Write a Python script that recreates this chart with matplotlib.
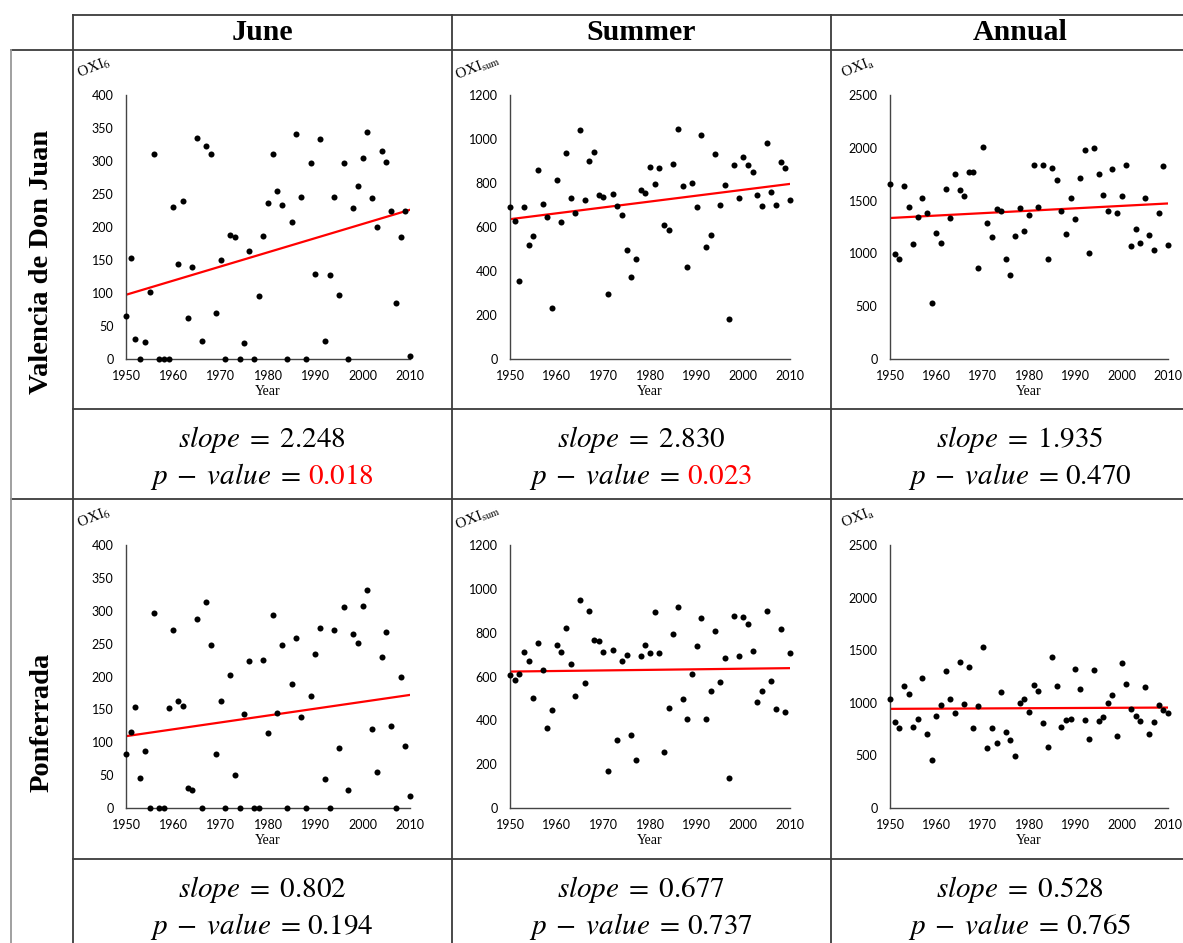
import numpy as np
import matplotlib.pyplot as plt

# OXI indices, one value per year 1950-2010
years = np.arange(1950, 2011)

valencia_june = [65, 153, 30, 0, 26, 101, 311, 0, 0, 0,
                 230, 144, 240, 62, 139, 335, 27, 322, 311, 69,
                 150, 0, 188, 185, 0, 24, 163, 0, 96, 187,
                 237, 311, 255, 234, 0, 207, 341, 246, 0, 297,
                 129, 334, 28, 127, 245, 97, 297, 0, 229, 262,
                 304, 344, 244, 200, 315, 299, 224, 85, 185, 225,
                 4]
valencia_summer = [693, 628, 356, 693, 516, 561, 858, 703, 644, 230,
                   812, 622, 935, 731, 663, 1039, 722, 899, 939, 746,
                   738, 297, 749, 696, 654, 495, 371, 454, 770, 756,
                   871, 794, 870, 611, 585, 887, 1044, 787, 416, 802,
                   690, 1018, 510, 564, 932, 699, 790, 180, 882, 734,
                   918, 882, 849, 746, 697, 982, 761, 700, 897, 867,
                   722]
valencia_annual = [1660, 997, 946, 1641, 1438, 1086, 1349, 1527, 1381, 527,
                   1190, 1095, 1610, 1337, 1752, 1600, 1543, 1771, 1768, 860,
                   2003, 1292, 1152, 1425, 1403, 946, 797, 1168, 1429, 1210,
                   1368, 1841, 1438, 1841, 946, 1810, 1692, 1403, 1187, 1521,
                   1324, 1717, 1975, 1003, 2000, 1756, 1549, 1397, 1797, 1378,
                   1543, 1841, 1073, 1229, 1098, 1524, 1171, 1029, 1381, 1829,
                   1083]
ponferrada_june = [82, 116, 154, 45, 86, 0, 296, 0, 0, 152,
                   270, 163, 155, 30, 27, 287, 0, 314, 248, 82,
                   162, 0, 203, 50, 0, 143, 223, 0, 0, 225,
                   114, 293, 144, 248, 0, 188, 258, 138, 0, 171,
                   234, 274, 44, 0, 271, 92, 306, 27, 265, 251,
                   307, 332, 120, 55, 229, 267, 125, 0, 199, 94,
                   19]
ponferrada_summer = [607, 584, 612, 714, 673, 503, 751, 628, 365, 446,
                     743, 713, 823, 656, 509, 948, 570, 901, 765, 761,
                     713, 171, 723, 309, 673, 697, 333, 217, 694, 745,
                     708, 896, 709, 257, 456, 792, 919, 497, 405, 612,
                     737, 869, 405, 535, 806, 576, 685, 138, 878, 694,
                     870, 838, 716, 482, 534, 899, 581, 451, 817, 436,
                     705]
ponferrada_annual = [1034, 814, 757, 1158, 1085, 767, 843, 1237, 700, 461,
                     871, 976, 1298, 1034, 906, 1390, 986, 1342, 760, 973,
                     1533, 566, 760, 614, 1100, 719, 649, 493, 996, 1034,
                     916, 1167, 1110, 808, 576, 1438, 1155, 770, 837, 843,
                     1317, 1132, 837, 658, 1310, 827, 865, 996, 1072, 687,
                     1380, 1183, 942, 875, 824, 1151, 700, 817, 980, 932,
                     900]

periods = ["June", "Summer", "Annual"]
stations = ["Valencia de Don Juan", "Ponferrada"]
series = [[valencia_june, valencia_summer, valencia_annual],
          [ponferrada_june, ponferrada_summer, ponferrada_annual]]
ymax = [400, 1200, 2500]
ystep = [50, 200, 500]
ylabels = [r"OXI$_6$", r"OXI$_{\mathrm{sum}}$", r"OXI$_{\mathrm{a}}$"]
slopes = [["2.248", "2.830", "1.935"], ["0.802", "0.677", "0.528"]]
pvalues = [["0.018", "0.023", "0.470"], ["0.194", "0.737", "0.765"]]

plt.rcParams["font.family"] = "Lato"
plt.rcParams["mathtext.fontset"] = "stix"

W, H = 1183, 943
fig = plt.figure(figsize=(W / 100, H / 100), dpi=100)


def fx(x):
    return x / W


def fy(y):
    return 1 - y / H


def hline(y, x0, x1, c="#3c3c3c"):
    fig.add_artist(plt.Line2D([fx(x0), fx(x1)], [fy(y), fy(y)], color=c, lw=1.3))


def vline(x, y0, y1, c="#3c3c3c"):
    fig.add_artist(plt.Line2D([fx(x), fx(x)], [fy(y0), fy(y1)], color=c, lw=1.3))


# table grid
hline(15, 73, W)
hline(50, 11, W)
hline(409, 73, W)
hline(499, 11, W)
hline(859, 73, W)
vline(11, 50, H, c="#999999")
vline(73, 15, H)
vline(452, 15, H)
vline(831, 15, H)

serif = "Liberation Serif"
col_centers = [262, 641, 1020]
for j, name in enumerate(periods):
    fig.text(fx(col_centers[j]), fy(33), name, family=serif, weight="bold",
             size=21.5, ha="center", va="center")
row_centers = [262, 722]
for i, name in enumerate(stations):
    fig.text(fx(42), fy(row_centers[i]), name, family=serif, weight="bold",
             size=20.5, rotation=90, ha="center", va="center")

# scatter panels
col_l = [126, 510, 890]
col_r = [410, 790, 1168]
row_t = [95, 545]
row_b = [359, 808]
for i in range(2):
    for j in range(3):
        vals = np.array(series[i][j])
        ax = fig.add_axes([fx(col_l[j]), fy(row_b[i]),
                           (col_r[j] - col_l[j]) / W, (row_b[i] - row_t[i]) / H])
        ax.scatter(years, vals, s=19, c="black", clip_on=False, zorder=3,
                   linewidths=0)
        k, c0 = np.polyfit(years, vals, 1)
        ends = np.array([years[0], years[-1]])
        ax.plot(ends, k * ends + c0, color="red", lw=1.6, zorder=2)
        ax.set_xlim(1950, 2010)
        ax.set_ylim(0, ymax[j])
        ax.set_xticks(range(1950, 2011, 10))
        ax.set_yticks(range(0, ymax[j] + 1, ystep[j]))
        for s in ["top", "right"]:
            ax.spines[s].set_visible(False)
        for s in ["left", "bottom"]:
            ax.spines[s].set_color("#444444")
            ax.spines[s].set_linewidth(1.0)
        ax.tick_params(length=0, labelsize=9)
        ax.tick_params(axis="y", pad=9)
        ax.tick_params(axis="x", pad=8)
        ax.set_xlabel("Year", family=serif, size=10, labelpad=2)
        ax.annotate(ylabels[j], xy=(0, 1), xycoords="axes fraction",
                    xytext=(-32, 27), textcoords="offset pixels", rotation=22,
                    ha="center", va="center", family=serif, size=11)

# slope / p-value text
renderer = fig.canvas.get_renderer()
stat_size = 21
gap = 7  # mathtext drops the trailing space after "="
slope_base = [447, 897]
p_base = [484, 934]
for i in range(2):
    for j in range(3):
        fig.text(fx(col_centers[j]), fy(slope_base[i]),
                 r"$slope\;=\;%s$" % slopes[i][j], size=stat_size,
                 ha="center", va="baseline")
        red = float(pvalues[i][j]) < 0.05
        t1 = fig.text(0, fy(p_base[i]), r"$p\;-\;value\;=$", size=stat_size,
                      ha="left", va="baseline")
        t2 = fig.text(0, fy(p_base[i]), r"$%s$" % pvalues[i][j], size=stat_size,
                      ha="left", va="baseline", color="red" if red else "black")
        w1 = t1.get_window_extent(renderer).width
        w2 = t2.get_window_extent(renderer).width
        x0 = col_centers[j] - (w1 + gap + w2) / 2
        t1.set_x(fx(x0))
        t2.set_x(fx(x0 + w1 + gap))

fig.savefig("out.png", dpi=100)
